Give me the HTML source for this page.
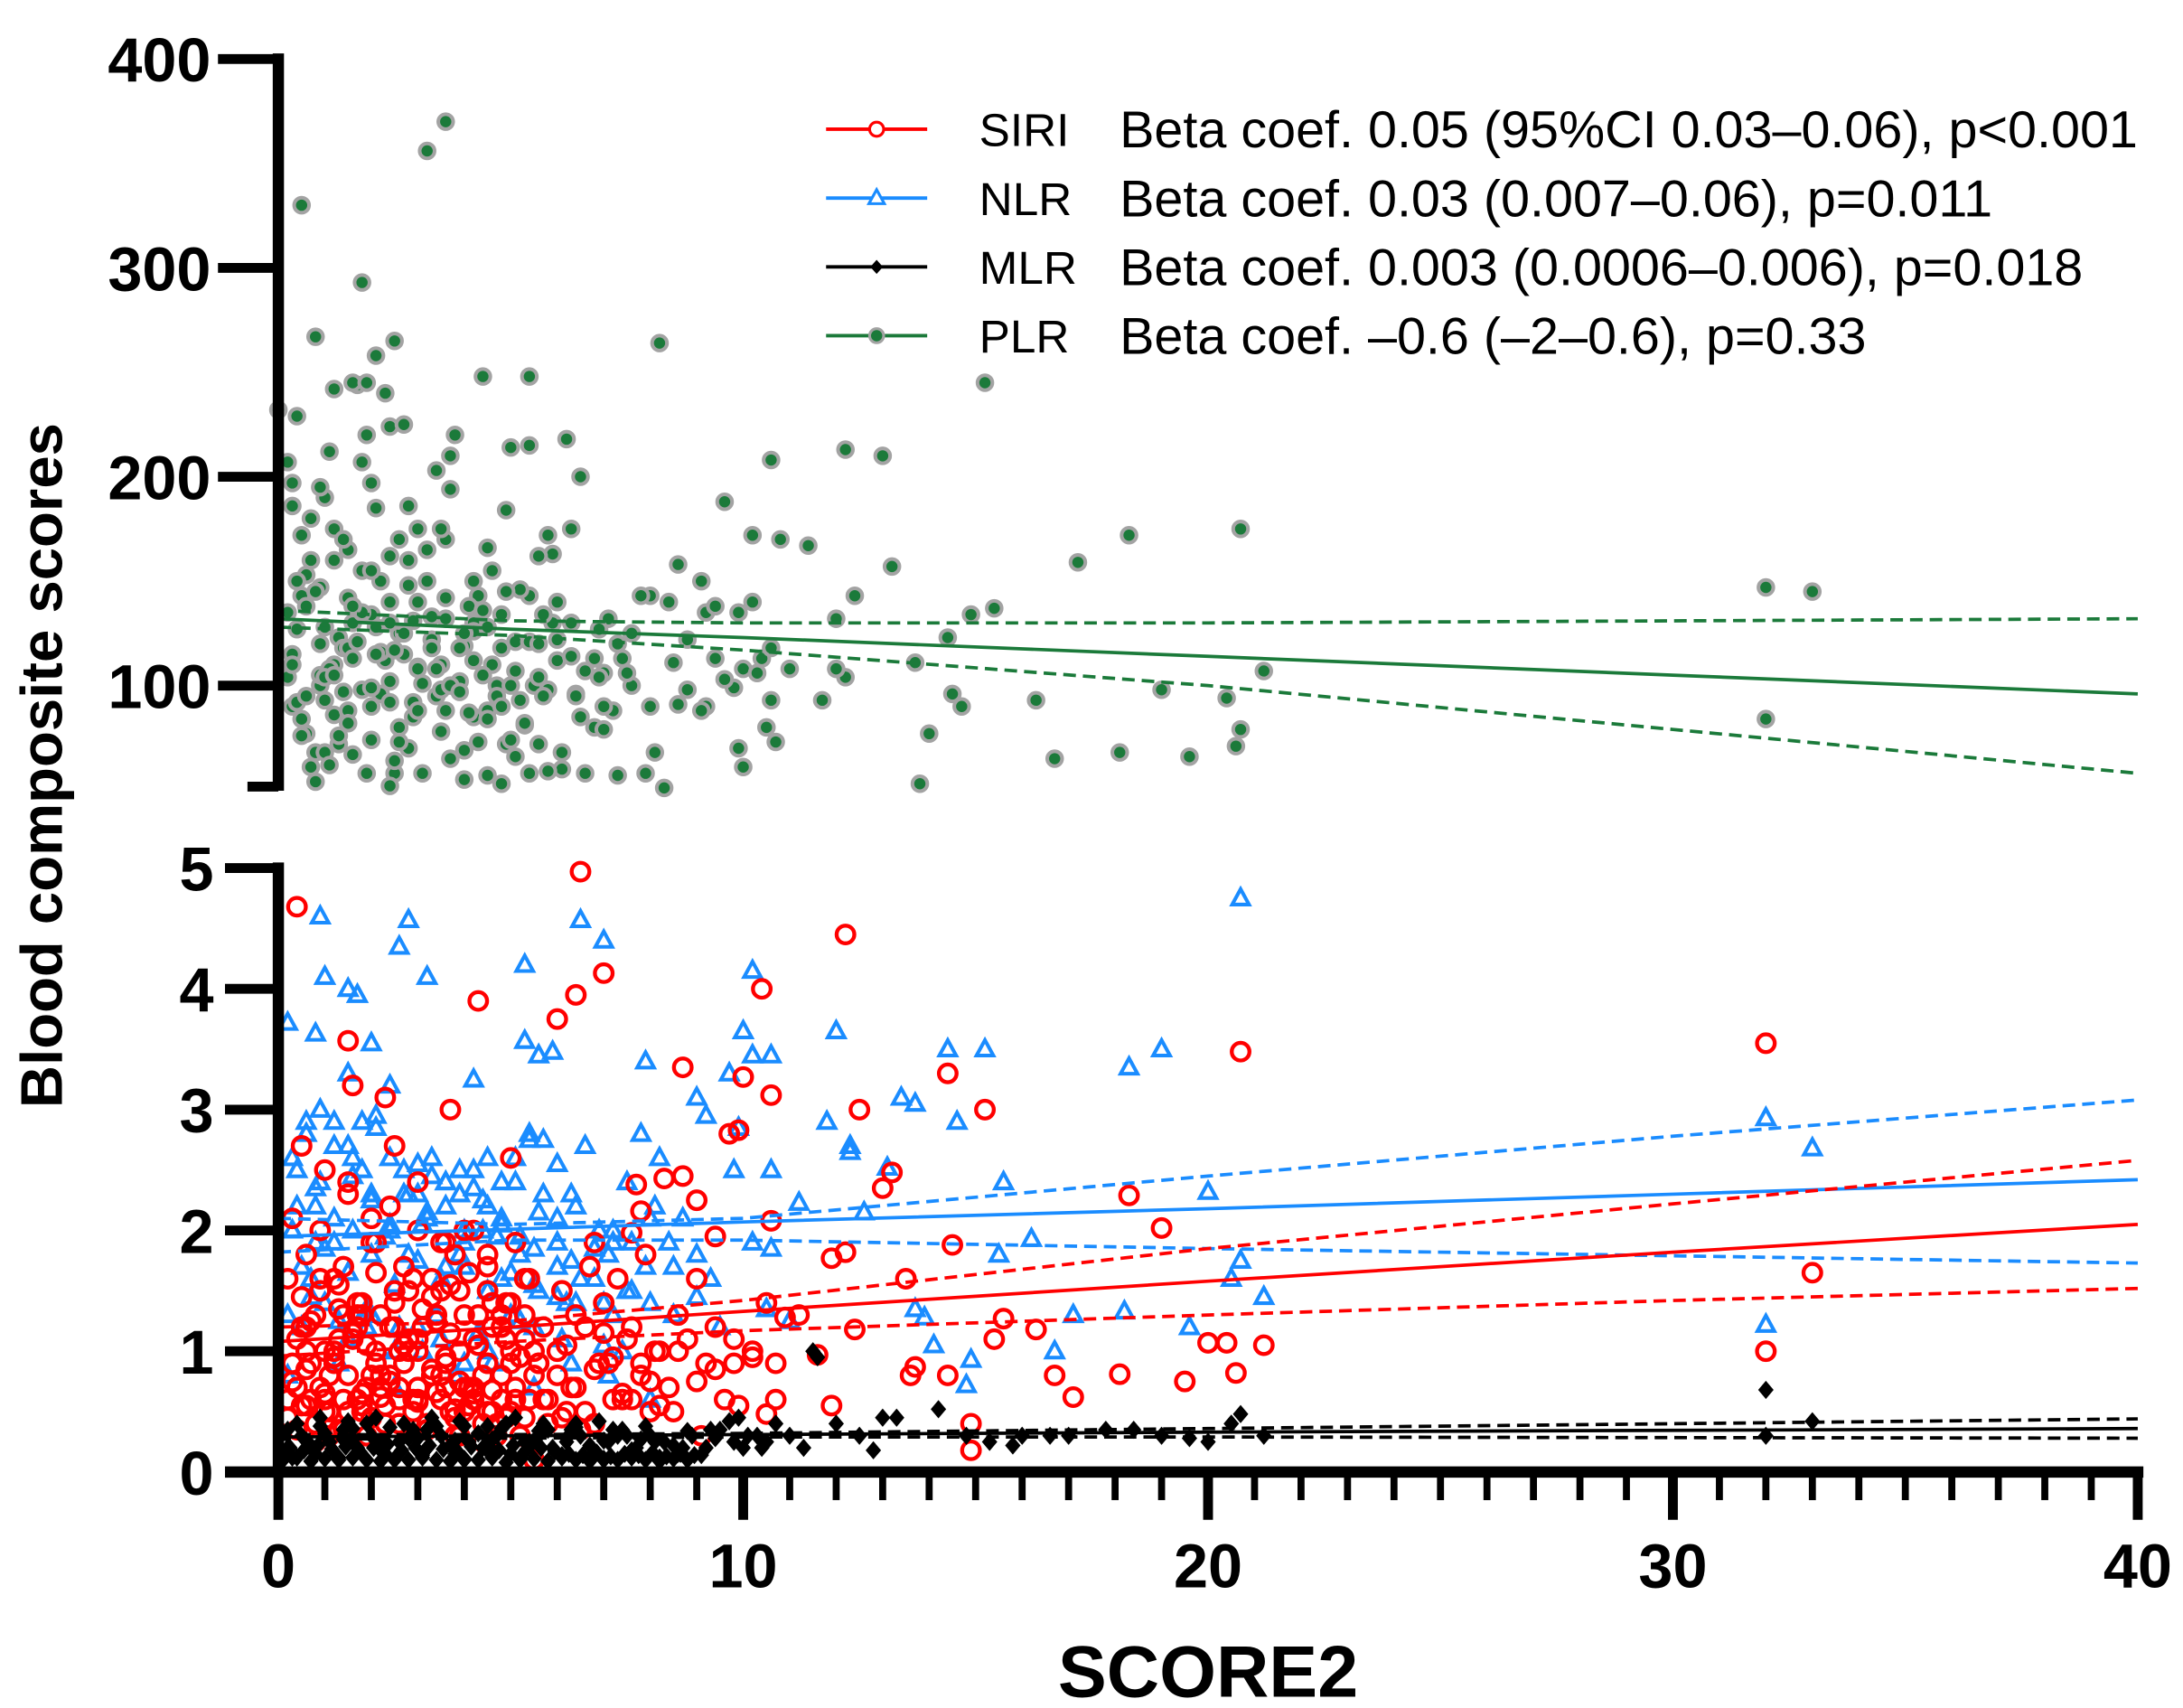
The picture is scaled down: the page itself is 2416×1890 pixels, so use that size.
<!DOCTYPE html>
<html><head><meta charset="utf-8"><style>
html,body{margin:0;padding:0;background:#fff;}
svg{display:block;}
text{font-family:"Liberation Sans",Arial,sans-serif;}
</style></head><body>
<svg id="chart" width="2416" height="1890" viewBox="0 0 1554 1216" xmlns="http://www.w3.org/2000/svg">
<g id="plr-layer"></g>
<g id="nlr-layer"></g>
<g id="siri-layer"></g>
<g id="mlr-layer"></g>
<g id="fit-layer"></g>
<g id="axes"></g>
<g id="legend"></g>
<text x="860" y="1208" text-anchor="middle" font-size="52" font-weight="bold">SCORE2</text>
<text transform="translate(44,545) rotate(-90)" text-anchor="middle" font-size="42" font-weight="bold">Blood composite scores</text>
</svg>
<script>
const xTicks=[0,10,20,30,40];
const yTopTicks=[100,200,300,400];
const yBotTicks=[0,1,2,3,4,5];
const fitX=[0,5,10,20,30,40];
const plrFit=[132,127,123,114,105,96];
const plrUp=[136,131,130,130,131,132];
const plrLo=[128,124,117,100,79,58];
const nlrFit=[1.95,2.01,2.07,2.18,2.30,2.42];
const nlrUp=[2.10,2.05,2.10,2.45,2.78,3.08];
const nlrLo=[1.82,1.92,1.92,1.85,1.79,1.73];
const siriFit=[1.08,1.20,1.33,1.58,1.82,2.05];
const siriUp=[1.20,1.25,1.42,1.85,2.22,2.58];
const siriLo=[0.96,1.08,1.17,1.30,1.42,1.52];
const mlrFit=[0.29,0.30,0.31,0.33,0.345,0.36];
const mlrUp=[0.31,0.31,0.32,0.36,0.40,0.44];
const mlrLo=[0.27,0.28,0.29,0.29,0.285,0.28];
const plrX=[0.5,3.2,3.6,1.8,0.8,2.5,2.1,4.4,5.4,8.2,15.2,0,0.4,1.7,1.6,12.2,13.0,10.6,15.4,14.9,12.0,11.4,10.8,10.2,9.6,13.2,12.4,17.2,18.3,20.7,21.2,20.4,19.0,16.3,14.4,14.5,13.7,13.8,16.7,18.1,19.6,20.6,20.7,14.7,14.0,32.0,33.0,32.0,11.7,12.2,12.0,11.0,10.6,10.5,10.7,9.9,10.0,8.8,9.2,9.4,8.6,8.4,8.6,9.1,9.2,9.4,9.9,10.2,10.0,10.4,10.6,8.0,7.8,7.6,7.3,7.4,7.0,6.6,7.6,8.0,8.1,7.9,8.3,7.3,6.6,6.1,5.8,5.4,6.1,6.5,6.8,7.0,5.8,5.5,6.0,6.3,5.9,5.7,5.4,5.9,5.6,5.8,6.3,6.5,6.2,5.4,5.0,4.9,4.5,4.6,4.3,4.2,4.0,4.6,4.7,4.5,4.2,4.3,4.5,4.8,4.0,3.7,3.4,3.1,3.5,3.3,3.0,3.2,3.0,3.8,3.7,3.4,3.7,2.8,2.6,2.4,2.2,2.4,2.1,2.7,2.4,2.0,2.6,2.8,2.5,3.1,2.4,1.9,1.6,1.3,1.2,1.4,1.2,1.3,1.6,1.5,1.8,1.5,1.2,1.0,0.9,1.1,1.2,1.9,1.9,1.8,2.0,2.4,2.7,2.3,0.8,0.7,0.8,0.6,0.5,0.3,0.2,0.3,0.4,0.2,0.5,0.6,0.7,0.5,0.3,0.3,0.2,0.9,1.0,0.9,1.8,2.2,2.9,3.6,3.9,5.0,5.2,5.3,5.6,5.1,4.9,6.4,6.9,7.1,7.5,6.9,5.1,4.8,2.9,2.0,1.0,1.4,3.6,4.1,9.8,9.1,9.6,10.3,8.5,8.8,1.1,1.5,2.3,2.6,3.3,3.9,4.4,0.6,0.9,1.7,2.2,3.0,3.5,4.1,4.7,5.3,1.3,2.0,2.9,3.7,0.4,1.0,1.6,2.5,3.4,4.2];
const plrY=[330,356,370,293,267,265,258,248,248,264,245,232,229,244,245,213,210,208,137,134,132,167,170,172,188,157,143,159,172,175,107,94,98,93,123,96,111,53,65,68,66,71,79,90,77,147,145,84,93,104,108,108,93,80,73,70,61,98,90,113,91,140,158,150,135,138,135,140,108,113,118,143,143,125,120,113,106,107,100,90,68,58,51,57,58,60,59,58,68,85,80,79,98,100,112,114,130,134,143,163,162,172,175,200,218,215,214,184,166,155,143,130,119,110,100,88,85,73,57,53,55,65,95,101,110,122,140,150,175,220,210,203,194,186,170,162,150,140,128,115,102,90,80,70,58,58,52,58,67,72,86,97,110,123,130,142,155,165,175,190,195,212,242,245,220,207,197,224,225,240,54,61,68,77,84,90,104,115,127,135,143,153,160,172,186,197,207,100,93,105,98,96,92,88,102,100,93,81,72,66,72,96,104,132,106,127,121,134,131,134,128,118,170,138,99,88,103,106,111,122,108,118,112,125,133,118,105,138,147,121,116,109,98,87,95,82,76,99,85,100,92,104,113,117,108,126];
const plrX2=[0.3,0.6,0.9,1.2,1.5,1.8,2.1,2.4,2.7,3.0,3.3,3.6,3.9,4.2,4.5,4.8,5.1,5.4,5.7,6.0,0.4,0.8,1.2,1.6,2.0,2.4,2.8,3.2,3.6,4.0,4.4,4.8,5.2,5.6,6.0,6.4,6.8,7.2,0.5,1.0,1.5,2.0,2.5,3.0,3.5,4.0,4.5,5.0,0.7,1.4,2.1,2.8,3.5,4.2,4.9,5.6,6.3,7.0,1.1,2.6];
const plrY2=[110,95,120,105,88,135,115,92,125,108,118,132,97,112,128,90,107,121,95,140,150,145,160,138,155,130,148,165,142,125,136,118,146,104,122,95,113,88,76,68,82,74,64,88,78,69,84,74,180,170,185,160,175,150,145,120,130,90,62,73];
const siriX=[0.4,6.5,12.2,4.3,6.4,7.0,6.0,10.4,1.5,3.7,1.6,2.3,10.0,10.6,14.4,15.2,12.5,32.0,20.7,9.7,9.9,8.7,18.3,19.0,13.0,13.2,14.5,11.9,12.2,12.4,13.5,15.6,15.4,16.3,16.7,17.1,18.1,19.5,20.0,20.4,20.6,21.2,32.0,33.0,11.6,11.9,14.9,14.9,14.4,13.7,13.6,10.7,10.7,10.5,9.9,11.2,10.9,10.5,10.6,9.4,9.0,8.7,8.3,7.7,7.8,7.6,6.8,0.3,0.5,0.7,0.9,1.1,1.3,1.5,1.7,1.9,2.1,2.3,2.5,2.7,2.9,3.1,3.3,3.5,3.7,3.9,4.1,4.3,4.5,4.7,4.9,5.1,5.3,5.5,5.7,0.2,0.4,0.6,0.8,1.0,1.2,1.4,1.6,1.8,2.0,2.2,2.4,2.6,2.8,3.0,3.2,3.4,3.6,3.8,4.0,4.2,4.4,4.6,4.8,5.0,5.2,0.3,0.6,0.9,1.2,1.5,1.8,2.1,2.4,2.7,3.0,3.3,3.6,3.9,4.2,4.5,4.8,5.1,5.4,0.5,1.0,1.5,2.0,2.5,3.0,3.5,4.0,4.5,5.0,0.4,0.8,1.3,1.9,2.6,3.2,3.8,4.4,4.9,5.5,6.0,6.3,6.6,6.9,7.2,7.5,7.8,8.1,8.4,8.8,9.2,9.6,6.1,6.4,6.7,7.0,7.3,7.6,7.9,8.2,8.6,9.0,9.4,9.8,10.2,5.8,6.2,6.8,7.4,8.0,8.5,9.1,0.2,0.7,1.1,1.4,1.7,2.2,2.6,3.4,3.9,4.6,5.0,5.3,5.6,0.6,1.2,1.8,2.4,3.0,3.6,4.2,4.8,1.0,2.0,3.0,4.0,5.0,2.8,3.5,4.5,5.8,7.1];
const siriY=[4.68,4.97,4.45,3.9,3.95,4.13,3.75,4.0,3.57,3.0,3.2,3.1,3.27,3.12,3.3,3.0,3.0,3.55,3.48,2.8,2.83,3.35,2.29,2.02,2.35,2.48,1.88,1.77,1.82,1.18,1.6,1.27,1.1,1.18,0.8,0.62,0.81,0.75,1.07,1.07,0.82,1.05,1.0,1.65,0.97,0.55,0.4,0.18,0.8,0.87,0.8,0.6,0.9,0.48,0.55,1.3,1.28,1.4,2.08,1.95,2.25,2.45,2.43,2.38,2.16,1.98,1.9,0.9,1.2,0.6,1.5,0.8,1.1,0.5,1.3,0.7,1.0,0.4,1.4,0.9,0.6,1.2,0.8,1.5,0.5,1.0,0.7,1.3,0.9,0.4,1.1,0.6,1.6,0.8,1.2,1.6,0.7,1.0,1.3,0.6,0.9,1.7,1.1,0.5,1.9,0.8,1.2,0.6,1.5,1.0,0.4,1.3,0.7,1.8,0.5,1.1,0.8,1.4,0.6,1.0,0.3,2.1,1.8,2.0,1.6,2.3,1.4,1.9,2.2,1.7,2.0,1.6,1.9,1.5,2.0,1.7,1.3,1.9,1.6,2.7,2.5,2.4,2.1,2.7,2.4,1.9,2.0,1.8,2.6,0.35,0.25,0.35,0.3,0.4,0.35,0.3,0.25,0.45,0.1,1.0,0.7,1.2,0.9,0.6,1.1,0.8,1.0,0.7,1.1,0.9,0.6,1.5,1.3,1.7,1.4,1.6,1.2,1.8,1.0,1.3,1.6,1.2,0.9,1.0,0.4,0.5,0.4,0.6,0.5,0.5,0.3,0.6,0.9,0.3,1.3,1.2,0.7,1.0,1.3,0.3,0.5,1.4,1.1,0.9,1.2,1.0,1.3,0.8,1.1,0.9,0.7,1.2,0.5,0.8,0.6,0.7,0.9,1.0,0.8,0.5,0.6,0.9];
const siriX2=[0.2,0.5,0.8,1.1,1.4,1.7,2.0,2.3,2.6,2.9,3.2,3.5,3.8,4.1,4.4,4.7,5.0,5.3,0.3,0.6,0.9,1.2,1.5,1.8,2.1,2.4,2.7,3.0,3.3,3.6,3.9,4.2,4.5,4.8,5.1,5.4,0.4,0.7,1.0,1.3,1.6,1.9,2.2,2.5,2.8,3.1,3.4,3.7,4.0,4.3,4.6,4.9,5.2,5.5,0.5,0.9,1.3,1.7,2.1,2.5,2.9,3.3,3.7,4.1,4.5,4.9,5.3,0.6,1.0,1.4,1.8,2.2,2.6,3.0,3.4,3.8,4.2,4.6,5.0,5.6,6.0,6.4,6.8,7.2,7.6,8.0,6.2,6.6,7.0,7.4,7.8,8.2,8.6,9.0,9.4,9.8,10.2,5.7,6.1,6.5];
const siriY2=[0.45,0.55,0.4,0.5,0.35,0.6,0.45,0.55,0.4,0.5,0.35,0.6,0.45,0.55,0.4,0.3,0.5,0.45,0.75,0.85,0.7,0.95,0.8,0.65,0.9,0.75,1.05,0.7,0.85,0.95,0.75,0.65,0.9,0.8,0.7,0.6,1.1,1.25,1.0,1.35,1.15,1.05,1.3,1.2,1.1,1.35,1.25,1.15,1.3,1.05,1.2,1.1,0.95,1.0,1.45,1.6,1.55,1.4,1.65,1.5,1.6,1.45,1.55,1.65,1.5,1.4,1.3,0.55,0.65,0.6,0.55,0.62,0.7,0.58,0.66,0.52,0.6,0.68,0.5,0.9,0.8,0.7,0.85,0.95,0.6,0.75,1.05,0.5,1.15,0.65,0.9,0.55,1.0,0.75,0.85,1.1,0.95,0.6,0.45,0.35];
const nlrX=[0.9,2.8,6.5,7.0,20.7,1.0,3.2,2.6,5.3,1.5,1.7,10.2,0.2,0.8,2.0,4.2,5.3,5.6,5.9,10.0,10.2,10.6,7.9,14.4,15.2,18.3,19.0,12.0,13.4,13.7,14.6,32.0,33.0,11.8,12.3,12.3,13.1,12.6,15.6,20.0,20.7,20.5,21.2,16.2,15.5,17.1,16.7,18.2,19.6,14.9,14.8,14.1,13.7,13.9,32.0,11.2,10.6,9.8,10.2,10.6,9.0,9.2,9.7,9.9,8.2,0.3,0.6,0.9,1.2,1.5,1.8,2.1,2.4,2.7,3.0,3.3,3.6,3.9,4.2,4.5,4.8,5.1,5.4,5.7,6.0,6.3,6.6,6.9,7.2,7.5,7.8,8.1,8.4,8.7,9.0,0.4,0.8,1.2,1.6,2.0,2.4,2.8,3.2,3.6,4.0,4.4,4.8,5.2,5.6,6.0,6.4,6.8,7.2,7.6,8.0,8.5,9.3,0.5,1.0,1.5,2.0,2.5,3.0,3.5,4.0,4.5,5.0,5.5,6.2,7.4,0.2,0.7,1.3,1.9,2.5,3.1,3.8,4.6,5.5,6.3,7.1,8.0];
const nlrY=[4.6,4.57,4.57,4.4,4.75,4.1,4.1,4.35,4.2,4.0,3.95,4.15,3.72,3.63,3.55,3.25,3.57,3.45,3.48,3.65,3.45,3.45,3.4,3.5,3.5,3.35,3.5,3.65,3.1,3.05,2.9,2.93,2.68,2.9,2.7,2.65,2.52,2.15,2.4,2.32,1.75,1.6,1.45,1.93,1.8,1.3,1.0,1.33,1.2,0.93,0.72,1.05,1.35,1.28,1.22,2.23,2.5,2.5,1.9,1.85,3.1,2.95,3.3,2.85,2.6,2.0,2.9,3.0,2.7,3.3,2.9,2.95,3.2,2.5,2.3,2.6,2.4,2.3,2.5,2.2,2.4,2.6,2.8,2.75,2.1,2.3,2.7,2.0,1.9,2.4,2.8,2.2,1.9,2.1,1.8,2.5,2.2,1.9,2.6,2.3,2.0,1.8,2.1,1.7,1.9,2.0,1.6,1.8,1.5,1.7,1.4,1.6,1.3,1.5,1.4,1.7,1.6,1.2,1.4,1.1,1.3,1.0,1.2,1.1,0.9,1.0,1.3,1.2,1.4,1.0,0.8,1.6,0.9,1.2,0.7,1.0,0.8,0.9,0.7,0.9,0.8,0.6];
const nlrX2=[0.3,0.6,0.9,1.2,1.5,1.8,2.1,2.4,2.7,3.0,3.3,3.6,3.9,4.2,4.5,4.8,5.1,5.4,5.7,6.0,0.4,0.8,1.2,1.6,2.0,2.4,2.8,3.2,3.6,4.0,4.4,4.8,5.2,5.6,6.0,6.4,6.8,7.2,7.6,8.0,0.5,1.0,1.5,2.0,2.5,3.0,3.5,4.0,4.5,5.0,5.5,6.0,6.5,7.0,7.5,8.5,9.0,9.5,10.5,11.0,0.2,0.7,1.3,1.9,2.6,3.4,4.3,5.2,6.1,7.0,0.8,1.6,2.3,3.1,3.9,4.7,5.5,6.3,7.1,7.9];
const nlrY2=[2.6,2.8,2.4,2.9,2.7,2.5,2.85,2.6,2.3,2.55,2.45,2.2,2.5,2.35,2.6,2.1,2.4,2.75,2.3,2.55,2.2,2.35,2.1,2.45,2.25,2.05,2.3,2.15,2.4,2.0,2.25,2.05,1.95,2.15,1.9,2.2,1.85,2.0,1.9,2.1,1.7,1.85,1.65,1.8,1.55,1.75,1.6,1.7,1.5,1.65,1.55,1.45,1.6,1.4,1.5,1.3,1.45,1.2,1.35,1.25,1.3,1.45,1.25,1.35,1.2,1.3,1.15,1.25,1.1,1.05,1.9,2.0,1.95,2.05,1.8,1.95,1.85,1.75,1.8,1.7];
const mlrX=[0.2,0.5,0.8,1.1,1.4,1.7,2.0,2.3,2.6,2.9,3.2,3.5,3.8,4.1,4.4,4.7,5.0,5.3,5.6,5.9,6.2,6.5,6.8,7.1,7.4,7.7,8.0,8.3,8.6,8.9,9.2,9.5,9.8,10.1,10.4,10.7,0.3,0.7,1.0,1.3,1.6,1.9,2.2,2.5,2.8,3.1,3.4,3.7,4.0,4.3,4.6,4.9,5.2,5.5,5.8,6.1,6.4,6.7,7.0,7.3,7.6,7.9,8.2,8.5,8.8,9.1,9.4,9.7,10.0,10.3,0.4,0.9,1.5,2.1,2.7,3.3,3.9,4.5,5.1,5.7,6.3,6.9,7.5,8.1,8.7,9.3,9.9,10.5,11.0,11.5,11.6,12.0,12.5,13.0,13.3,14.2,14.8,15.3,16.0,16.6,17.0,17.8,18.4,19.0,19.6,20.0,20.5,20.7,21.2,32.0,32.0,33.0,11.3,12.8,15.8];
const mlrY=[0.2,0.3,0.15,0.25,0.35,0.2,0.3,0.15,0.25,0.35,0.2,0.3,0.15,0.25,0.2,0.3,0.15,0.25,0.3,0.2,0.25,0.3,0.15,0.25,0.35,0.2,0.3,0.25,0.15,0.3,0.2,0.35,0.25,0.3,0.2,0.4,0.12,0.22,0.32,0.12,0.28,0.4,0.18,0.1,0.28,0.14,0.38,0.22,0.1,0.32,0.18,0.4,0.12,0.26,0.35,0.14,0.4,0.22,0.1,0.3,0.18,0.38,0.12,0.22,0.34,0.14,0.28,0.42,0.2,0.3,0.4,0.45,0.42,0.45,0.4,0.45,0.42,0.38,0.45,0.4,0.35,0.42,0.3,0.25,0.2,0.35,0.45,0.25,0.3,1.0,0.95,0.4,0.3,0.45,0.45,0.52,0.3,0.25,0.3,0.3,0.3,0.35,0.35,0.3,0.28,0.25,0.4,0.48,0.3,0.68,0.3,0.42,0.2,0.18,0.22];
const mlrX2=[0.1,0.4,0.7,1.0,1.3,1.6,1.9,2.2,2.5,2.8,3.1,3.4,3.7,4.0,4.3,4.6,4.9,5.2,5.5,5.8,6.1,6.4,6.7,7.0,7.3,7.6,7.9,8.2,8.5,8.8,0.25,0.55,0.85,1.15,1.45,1.75,2.05,2.35,2.65,2.95,3.25,3.55,3.85,4.15,4.45,4.75,5.05,5.35,5.65,5.95,6.25,6.55,6.85,7.15,7.45,7.75,8.05,8.35,8.65,8.95,0.2,0.9,1.6,2.4,3.2,4.0,4.8,5.6,6.4,7.2,0.6,1.4,2.2,3.0,3.8,4.6,5.4,6.2,7.0,7.8];
const mlrY2=[0.1,0.12,0.09,0.11,0.1,0.12,0.1,0.09,0.11,0.1,0.12,0.1,0.09,0.11,0.1,0.12,0.08,0.1,0.11,0.09,0.12,0.1,0.09,0.11,0.1,0.12,0.1,0.09,0.11,0.1,0.2,0.18,0.22,0.19,0.21,0.17,0.2,0.23,0.18,0.2,0.22,0.19,0.17,0.21,0.2,0.18,0.22,0.19,0.2,0.17,0.15,0.14,0.16,0.13,0.15,0.14,0.16,0.13,0.15,0.14,0.35,0.38,0.36,0.37,0.35,0.38,0.36,0.34,0.37,0.35,0.26,0.27,0.25,0.28,0.26,0.27,0.25,0.28,0.26,0.27];

const NS='http://www.w3.org/2000/svg';
const X0=198, XS=33.1;
function sx(v){return X0+v*XS;}
function syTop(v){return 42+(400-v)*1.487;}
function syBot(v){return 1048-v*86;}
function mk(tag,attrs,parent){const e=document.createElementNS(NS,tag);for(const k in attrs)e.setAttribute(k,attrs[k]);parent.appendChild(e);return e;}
function pairs(xs,ys){const out=[];for(let i=0;i<Math.min(xs.length,ys.length);i++)out.push([xs[i],ys[i]]);return out;}

const plrL=document.getElementById('plr-layer');
pairs(plrX,plrY).concat(pairs(plrX2,plrY2)).forEach(([x,y])=>{const c=mk('circle',{cx:sx(x),cy:syTop(y),r:5.3,fill:'#1b7a3a',stroke:'#a3a3a3','stroke-width':2.6},plrL);

});

const nlrL=document.getElementById('nlr-layer');
pairs(nlrX,nlrY).concat(pairs(nlrX2,nlrY2)).forEach(([x,y])=>{const cx=sx(x),cy=syBot(y);const p=mk('polygon',{points:`${cx},${cy-6.5} ${cx+6},${cy+4.5} ${cx-6},${cy+4.5}`,fill:'none',stroke:'#1a8cff','stroke-width':2.6},nlrL);

});

const siriL=document.getElementById('siri-layer');
pairs(siriX,siriY).concat(pairs(siriX2,siriY2)).forEach(([x,y])=>{const c=mk('circle',{cx:sx(x),cy:syBot(y),r:6.3,fill:'none',stroke:'#ff0000','stroke-width':2.8},siriL);

});

const mlrL=document.getElementById('mlr-layer');
pairs(mlrX,mlrY).concat(pairs(mlrX2,mlrY2)).forEach(([x,y])=>{const cx=sx(x),cy=syBot(y);const p=mk('polygon',{points:`${cx},${cy-6.5} ${cx+5.5},${cy} ${cx},${cy+6.5} ${cx-5.5},${cy}`,fill:'#000'},mlrL);

});

const fitL=document.getElementById('fit-layer');
function line(arr,sy,color,dash,name){const pts=fitX.map((x,i)=>`${sx(x)},${sy(arr[i])}`).join(' ');
const l=mk('polyline',{points:pts,fill:'none',stroke:color,'stroke-width':2.4,'stroke-dasharray':dash?'9 5':'none'},fitL);

}
line(plrFit,syTop,'#1b7a3a',false,'plr-fit-line');line(plrUp,syTop,'#1b7a3a',true,'plr-ci-upper');line(plrLo,syTop,'#1b7a3a',true,'plr-ci-lower');
line(nlrFit,syBot,'#1a8cff',false,'nlr-fit-line');line(nlrUp,syBot,'#1a8cff',true,'nlr-ci-upper');line(nlrLo,syBot,'#1a8cff',true,'nlr-ci-lower');
line(siriFit,syBot,'#ff0000',false,'siri-fit-line');line(siriUp,syBot,'#ff0000',true,'siri-ci-upper');line(siriLo,syBot,'#ff0000',true,'siri-ci-lower');
line(mlrFit,syBot,'#000',false,'mlr-fit-line');line(mlrUp,syBot,'#000',true,'mlr-ci-upper');line(mlrLo,syBot,'#000',true,'mlr-ci-lower');

const ax=document.getElementById('axes');
let a=mk('line',{x1:X0,y1:38,x2:X0,y2:563,stroke:'#000','stroke-width':8},ax);


a=mk('line',{x1:X0,y1:614,x2:X0,y2:1052,stroke:'#000','stroke-width':8},ax);


a=mk('line',{x1:160,y1:1048,x2:1526,y2:1048,stroke:'#000','stroke-width':8},ax);


mk('line',{x1:176,y1:560,x2:X0,y2:560,stroke:'#000','stroke-width':7},ax);
yTopTicks.forEach(v=>{const y=syTop(v);mk('line',{x1:155,y1:y,x2:X0,y2:y,stroke:'#000','stroke-width':7},ax);
const t=mk('text',{x:150,y:y+16,'text-anchor':'end','font-size':44,'font-weight':'bold'},ax);t.textContent=v;

});
yBotTicks.forEach(v=>{const y=syBot(v);if(v>0)mk('line',{x1:160,y1:y,x2:X0,y2:y,stroke:'#000','stroke-width':7},ax);
const t=mk('text',{x:152,y:y+16,'text-anchor':'end','font-size':44,'font-weight':'bold'},ax);t.textContent=v;

});
for(let k=1;k<=40;k++){if(k%10===0)continue;mk('line',{x1:sx(k),y1:1048,x2:sx(k),y2:1068,stroke:'#000','stroke-width':5},ax);}
xTicks.forEach(v=>{mk('line',{x1:sx(v),y1:1048,x2:sx(v),y2:1082,stroke:'#000','stroke-width':7},ax);
const t=mk('text',{x:sx(v),y:1130,'text-anchor':'middle','font-size':44,'font-weight':'bold'},ax);t.textContent=v;

});

const leg=document.getElementById('legend');
const legNames=['SIRI','NLR','MLR','PLR'];
const legText=['Beta coef. 0.05 (95%CI 0.03\u20130.06), p<0.001','Beta coef. 0.03 (0.007\u20130.06), p=0.011','Beta coef. 0.003 (0.0006\u20130.006), p=0.018','Beta coef. \u20130.6 (\u20132\u20130.6), p=0.33'];
const legColors=['#ff0000','#1a8cff','#000','#1b7a3a'];
legNames.forEach((n,i)=>{const y=92+i*49;const g=mk('g',{},leg);


mk('line',{x1:588,y1:y,x2:660,y2:y,stroke:legColors[i],'stroke-width':2.5},g);
const cx=624;
if(i===0)mk('circle',{cx:cx,cy:y,r:5,fill:'#fff',stroke:'#ff0000','stroke-width':2},g);
if(i===1)mk('polygon',{points:`${cx},${y-6} ${cx+5.5},${y+4} ${cx-5.5},${y+4}`,fill:'#fff',stroke:'#1a8cff','stroke-width':2},g);
if(i===2)mk('polygon',{points:`${cx},${y-5} ${cx+4.5},${y} ${cx},${y+5} ${cx-4.5},${y}`,fill:'#000'},g);
if(i===3)mk('circle',{cx:cx,cy:y,r:5,fill:'#1b7a3a',stroke:'#a3a3a3','stroke-width':2},g);
const t1=mk('text',{x:697,y:y+12,'font-size':33},g);t1.textContent=n;
const t2=mk('text',{x:797,y:y+13,'font-size':37},g);t2.textContent=legText[i];});
</script>
</body></html>
